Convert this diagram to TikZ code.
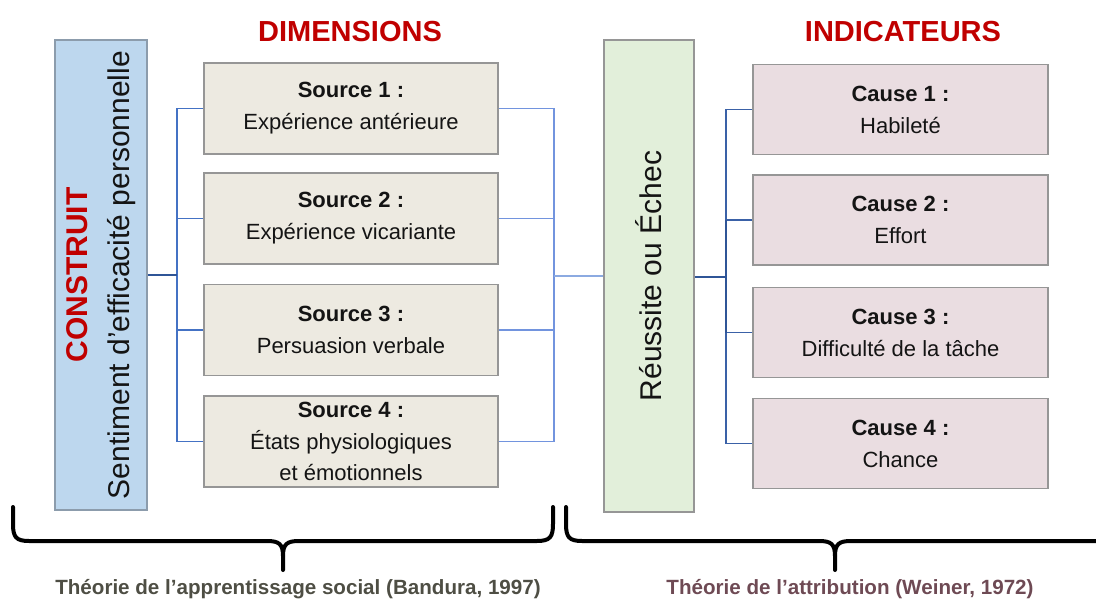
\documentclass[tikz,border=0pt]{standalone}
\usepackage{fontspec}
\setmainfont{Liberation Sans}

\definecolor{titlered}{RGB}{192,0,0}
\definecolor{constfill}{RGB}{189,215,238}
\definecolor{srcfill}{RGB}{237,234,225}
\definecolor{resfill}{RGB}{226,239,218}
\definecolor{causefill}{RGB}{234,221,225}
\definecolor{edgegray}{RGB}{150,150,150}
\definecolor{constedge}{RGB}{140,156,172}
\definecolor{linkblue}{RGB}{68,114,196}
\definecolor{linkdark}{RGB}{47,85,151}
\definecolor{linklight}{RGB}{114,148,222}
\definecolor{linkpale}{RGB}{140,170,225}
\definecolor{textdark}{RGB}{20,20,20}
\definecolor{banduragray}{RGB}{78,78,68}
\definecolor{weinermauve}{RGB}{110,74,84}

\begin{document}
\begin{tikzpicture}[x=1pt,y=-1pt,
  box/.style={draw=edgegray, line width=1.5pt, inner sep=0pt},
  srcbox/.style={box, fill=srcfill, minimum width=294pt, minimum height=91pt,
    align=center, text=textdark, font=\fontsize{22}{32}\selectfont},
  causebox/.style={box, fill=causefill, minimum width=295pt, minimum height=90pt,
    align=center, text=textdark, font=\fontsize{22}{32}\selectfont},
  vertlabel/.style={rotate=90, align=center, text=textdark, inner sep=0pt},
  header/.style={anchor=base, text=titlered, font=\fontsize{29}{32}\selectfont\bfseries},
  theory/.style={anchor=base, font=\fontsize{20.6}{24}\selectfont\bfseries},
  brace/.style={line width=4pt, line cap=round, line join=round},
  lconn/.style={draw=linkblue, line width=1.2pt},
  mconn/.style={draw=linklight, line width=1.2pt},
  rconn/.style={draw=linkblue!85!black, line width=1.2pt},
]
\useasboundingbox (0,0) rectangle (1096,599);
\clip (0,0) rectangle (1096,599);

% headers
\node[header] (hdim) at (350,42) {DIMENSIONS};
\node[header] (hind) at (903,42) {INDICATEURS};

% construct column
\node[box, draw=constedge, fill=constfill, minimum width=92pt, minimum height=470pt] (construct) at (101,275) {};
\node[vertlabel, font=\fontsize{30}{42}\selectfont] (constructtxt) at (construct.center)
  {\textcolor{titlered}{\bfseries CONSTRUIT}\\Sentiment d’efficacité personnelle};

% sources
\node[srcbox] (s1) at (351,108.5) {\textbf{Source 1 :}\\Expérience antérieure};
\node[srcbox] (s2) at (351,218.5) {\textbf{Source 2 :}\\Expérience vicariante};
\node[srcbox] (s3) at (351,330) {\textbf{Source 3 :}\\Persuasion verbale};
\node[srcbox, font=\fontsize{22}{31.5}\selectfont] (s4) at (351,441.5) {\textbf{Source 4 :}\\États physiologiques\\et émotionnels};

% result column
\node[box, fill=resfill, minimum width=90pt, minimum height=472pt] (result) at (649,276) {};
\node[vertlabel, font=\fontsize{30}{36}\selectfont] (resulttxt) at (result.center) {Réussite ou Échec};

% causes
\node[causebox] (c1) at (900.5,109.5) {\textbf{Cause 1 :}\\Habileté};
\node[causebox] (c2) at (900.5,220) {\textbf{Cause 2 :}\\Effort};
\node[causebox] (c3) at (900.5,332.5) {\textbf{Cause 3 :}\\Difficulté de la tâche};
\node[causebox] (c4) at (900.5,443.5) {\textbf{Cause 4 :}\\Chance};

% junction points
\coordinate (ltrunk) at (177,275);
\coordinate (mtrunk) at (554,276);
\coordinate (rtrunk) at (726,277);

% construct -> sources
\draw[lconn] (s1.west) -| (ltrunk) |- (s4.west);
\draw[lconn] (s2.west) -- (s2.west -| ltrunk);
\draw[lconn] (s3.west) -- (s3.west -| ltrunk);
\draw[draw=linkdark, line width=2pt] (construct.east) -- (ltrunk);

% sources -> result
\draw[mconn] (s1.east) -| (mtrunk) |- (s4.east);
\draw[mconn] (s2.east) -- (s2.east -| mtrunk);
\draw[mconn] (s3.east) -- (s3.east -| mtrunk);
\draw[draw=linkpale, line width=1.6pt] (mtrunk) -- (result.west);

% result -> causes
\draw[rconn] (c1.west) -| (rtrunk) |- (c4.west);
\draw[rconn] (c2.west) -- (c2.west -| rtrunk);
\draw[rconn] (c3.west) -- (c3.west -| rtrunk);
\draw[draw=linkdark, line width=2.2pt] (result.east |- rtrunk) -- (rtrunk);
\draw[draw=linkdark, line width=2.2pt] (c2.west -| rtrunk) -- (c3.west -| rtrunk);

% braces
\coordinate (lb1) at (13,507);
\coordinate (lbtip) at (283,570);
\coordinate (lb2) at (553,507);
\draw[brace] (lb1) -- (13,524) .. controls (13,537) and (16,541) .. (29,541)
  -- (267,541) .. controls (279,541) and (283,544) .. (283,556) -- (lbtip);
\draw[brace] (283,556) .. controls (283,544) and (287,541) .. (299,541)
  -- (537,541) .. controls (550,541) and (553,537) .. (553,524) -- (lb2);

\coordinate (rb1) at (566,507);
\coordinate (rbtip) at (835,570);
\coordinate (rb2) at (1110,541);
\draw[brace] (rb1) -- (566,524) .. controls (566,537) and (569,541) .. (582,541)
  -- (819,541) .. controls (831,541) and (835,544) .. (835,556) -- (rbtip);
\draw[brace] (835,556) .. controls (835,544) and (839,541) .. (851,541) -- (rb2);

% theory captions
\node[theory, text=banduragray] (bandura) at (298,594) {Théorie de l’apprentissage social (Bandura, 1997)};
\node[theory, text=weinermauve] (weiner) at (850,594) {Théorie de l’attribution (Weiner, 1972)};
\end{tikzpicture}
\end{document}
